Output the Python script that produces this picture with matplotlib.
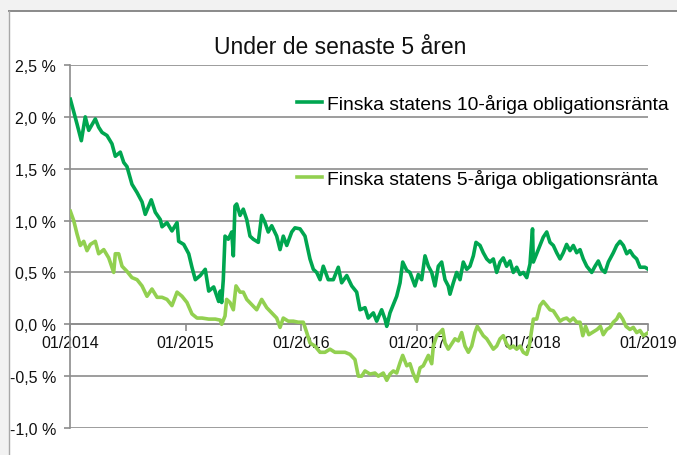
import matplotlib
matplotlib.use("Agg")
import matplotlib.pyplot as plt
from matplotlib.patches import Rectangle

plt.rcParams['font.family'] = ['Liberation Sans', 'DejaVu Sans']

title = "Under de senaste 5 åren"
label_10y = "Finska statens 10-åriga obligationsränta"
label_5y = "Finska statens 5-åriga obligationsränta"
x_ticks = [2014, 2015, 2016, 2017, 2018, 2019]
x_ticklabels = ["01/2014", "01/2015", "01/2016", "01/2017", "01/2018", "01/2019"]
y_ticks = [-1.0, -0.5, 0.0, 0.5, 1.0, 1.5, 2.0, 2.5]
y_ticklabels = ["-1,0 %", "-0,5 %", "0,0 %", "0,5 %", "1,0 %", "1,5 %", "2,0 %", "2,5 %"]

# 10-year yield (decimal year, %)
t10 = [2014.003, 2014.061, 2014.098, 2014.132, 2014.162, 2014.219, 2014.248, 2014.277,
       2014.320, 2014.363, 2014.392, 2014.435, 2014.465, 2014.493, 2014.536, 2014.580,
       2014.623, 2014.651, 2014.703, 2014.738, 2014.781, 2014.796, 2014.839, 2014.882,
       2014.926, 2014.940, 2014.984, 2015.027, 2015.055, 2015.084, 2015.127, 2015.170,
       2015.200, 2015.243, 2015.286, 2015.300, 2015.312, 2015.326, 2015.341, 2015.369,
       2015.399, 2015.413, 2015.427, 2015.442, 2015.471, 2015.499, 2015.529, 2015.557,
       2015.586, 2015.629, 2015.658, 2015.687, 2015.715, 2015.745, 2015.788, 2015.817,
       2015.845, 2015.875, 2015.918, 2015.946, 2015.990, 2016.033, 2016.076, 2016.105,
       2016.134, 2016.163, 2016.191, 2016.234, 2016.278, 2016.321, 2016.350, 2016.394,
       2016.437, 2016.480, 2016.509, 2016.552, 2016.580, 2016.624, 2016.653, 2016.696,
       2016.725, 2016.740, 2016.768, 2016.797, 2016.826, 2016.855, 2016.878, 2016.913,
       2016.941, 2016.984, 2017.013, 2017.042, 2017.071, 2017.100, 2017.129, 2017.157,
       2017.186, 2017.215, 2017.244, 2017.272, 2017.287, 2017.316, 2017.345, 2017.374,
       2017.402, 2017.432, 2017.460, 2017.489, 2017.512, 2017.547, 2017.575, 2017.605,
       2017.633, 2017.662, 2017.691, 2017.720, 2017.748, 2017.777, 2017.806, 2017.835,
       2017.864, 2017.893, 2017.921, 2017.951, 2017.979, 2018.001, 2018.008, 2018.037,
       2018.066, 2018.094, 2018.124, 2018.152, 2018.181, 2018.210, 2018.239, 2018.267,
       2018.296, 2018.325, 2018.354, 2018.383, 2018.412, 2018.440, 2018.470, 2018.513,
       2018.542, 2018.570, 2018.599, 2018.628, 2018.657, 2018.700, 2018.729, 2018.758,
       2018.787, 2018.816, 2018.844, 2018.873, 2018.902, 2018.931, 2018.974, 2019.003]
y10 = [2.17, 1.93, 1.77, 2.00, 1.87, 1.98, 1.90, 1.85,
       1.82, 1.74, 1.62, 1.66, 1.56, 1.52, 1.35, 1.27,
       1.18, 1.06, 1.20, 1.08, 1.01, 0.94, 0.98, 0.90,
       0.98, 0.80, 0.77, 0.68, 0.55, 0.43, 0.47, 0.53,
       0.32, 0.36, 0.22, 0.32, 0.21, 0.43, 0.85, 0.82,
       0.89, 0.66, 1.14, 1.16, 1.05, 1.11, 1.01, 0.85,
       0.82, 0.79, 1.05, 0.98, 0.89, 0.95, 0.85, 0.72,
       0.85, 0.76, 0.89, 0.93, 0.92, 0.85, 0.63, 0.53,
       0.50, 0.43, 0.56, 0.43, 0.43, 0.55, 0.40, 0.47,
       0.37, 0.31, 0.14, 0.16, 0.06, 0.11, 0.03, 0.14,
       0.05, -0.02, 0.11, 0.19, 0.27, 0.40, 0.60, 0.52,
       0.50, 0.37, 0.48, 0.43, 0.66, 0.56, 0.50, 0.37,
       0.56, 0.60, 0.43, 0.37, 0.29, 0.40, 0.50, 0.43,
       0.60, 0.53, 0.56, 0.66, 0.79, 0.76, 0.69, 0.63,
       0.60, 0.63, 0.50, 0.60, 0.64, 0.56, 0.61, 0.50,
       0.55, 0.48, 0.50, 0.45, 0.58, 0.92, 0.60, 0.68,
       0.76, 0.84, 0.89, 0.79, 0.76, 0.69, 0.63, 0.69,
       0.77, 0.71, 0.76, 0.69, 0.72, 0.63, 0.56, 0.50,
       0.56, 0.61, 0.53, 0.50, 0.60, 0.69, 0.76, 0.80,
       0.76, 0.68, 0.71, 0.66, 0.63, 0.55, 0.55, 0.53]

# 5-year yield (decimal year, %)
t5 = [2014.003, 2014.032, 2014.061, 2014.089, 2014.119, 2014.147, 2014.176, 2014.219,
      2014.248, 2014.292, 2014.335, 2014.378, 2014.392, 2014.421, 2014.450, 2014.493,
      2014.536, 2014.580, 2014.623, 2014.666, 2014.709, 2014.753, 2014.796, 2014.839,
      2014.882, 2014.926, 2014.969, 2015.012, 2015.055, 2015.099, 2015.142, 2015.200,
      2015.257, 2015.300, 2015.312, 2015.341, 2015.355, 2015.384, 2015.413, 2015.436,
      2015.471, 2015.499, 2015.529, 2015.572, 2015.615, 2015.658, 2015.702, 2015.745,
      2015.788, 2015.817, 2015.845, 2015.888, 2015.932, 2015.975, 2016.018, 2016.048,
      2016.076, 2016.119, 2016.163, 2016.206, 2016.249, 2016.292, 2016.336, 2016.379,
      2016.422, 2016.465, 2016.494, 2016.523, 2016.552, 2016.595, 2016.638, 2016.667,
      2016.710, 2016.740, 2016.768, 2016.797, 2016.826, 2016.855, 2016.878, 2016.913,
      2016.941, 2016.967, 2016.999, 2017.028, 2017.056, 2017.100, 2017.129, 2017.143,
      2017.172, 2017.201, 2017.224, 2017.244, 2017.272, 2017.301, 2017.330, 2017.359,
      2017.388, 2017.417, 2017.446, 2017.475, 2017.503, 2017.523, 2017.547, 2017.575,
      2017.605, 2017.633, 2017.662, 2017.691, 2017.720, 2017.748, 2017.777, 2017.806,
      2017.835, 2017.864, 2017.893, 2017.921, 2017.951, 2017.973, 2017.994, 2018.008,
      2018.037, 2018.066, 2018.094, 2018.124, 2018.152, 2018.181, 2018.210, 2018.239,
      2018.267, 2018.296, 2018.325, 2018.354, 2018.383, 2018.412, 2018.436, 2018.460,
      2018.488, 2018.517, 2018.560, 2018.588, 2018.613, 2018.643, 2018.671, 2018.700,
      2018.729, 2018.752, 2018.781, 2018.810, 2018.844, 2018.873, 2018.902, 2018.931,
      2018.960, 2019.003]
y5 = [1.09, 1.00, 0.87, 0.76, 0.80, 0.71, 0.77, 0.80,
      0.68, 0.72, 0.64, 0.50, 0.68, 0.68, 0.56, 0.51,
      0.45, 0.43, 0.37, 0.27, 0.34, 0.26, 0.26, 0.24,
      0.18, 0.31, 0.27, 0.21, 0.10, 0.06, 0.06, 0.05,
      0.05, 0.04, 0.00, 0.08, 0.24, 0.21, 0.14, 0.37,
      0.31, 0.31, 0.24, 0.19, 0.14, 0.24, 0.16, 0.11,
      0.06, -0.03, 0.06, 0.03, 0.03, 0.02, 0.02, -0.08,
      -0.18, -0.21, -0.27, -0.27, -0.24, -0.27, -0.27, -0.27,
      -0.29, -0.34, -0.50, -0.50, -0.45, -0.48, -0.47, -0.50,
      -0.47, -0.54, -0.48, -0.45, -0.47, -0.37, -0.30, -0.40,
      -0.38, -0.47, -0.55, -0.42, -0.40, -0.30, -0.38, -0.21,
      -0.11, -0.08, -0.05, -0.18, -0.24, -0.19, -0.14, -0.16,
      -0.08, -0.21, -0.27, -0.21, -0.08, -0.02, -0.06, -0.11,
      -0.14, -0.19, -0.24, -0.21, -0.14, -0.11, -0.19, -0.23,
      -0.21, -0.24, -0.21, -0.27, -0.29, -0.21, -0.05, 0.05,
      0.05, 0.18, 0.22, 0.18, 0.14, 0.13, 0.08, 0.03,
      0.05, 0.06, 0.03, 0.06, 0.02, 0.02, -0.11, -0.02,
      -0.10, -0.08, -0.05, -0.02, -0.10, -0.05, -0.03, 0.02,
      0.05, 0.10, 0.05, -0.02, -0.05, -0.03, -0.08, -0.06,
      -0.11, -0.08]

W, H = 677, 456
fig = plt.figure(figsize=(W / 100, H / 100), dpi=100)
fig.patch.set_facecolor('#f2f2f2')

# background axes for the white chart area and its frame
bg = fig.add_axes([0, 0, 1, 1], zorder=-10)
bg.set_xlim(0, W)
bg.set_ylim(H, 0)
bg.axis('off')
bg.add_patch(Rectangle((9, 12), W, H, facecolor='white', edgecolor='none'))
bg.plot([9, W], [12, 12], color='#8a8a8a', lw=1.4)
bg.plot([9, 9], [12, H], color='#a8a8a8', lw=1.0)

ax = fig.add_axes([70 / W, 27 / H, 578 / W, 363 / H], zorder=1)
ax.set_facecolor('none')

green_dark = '#00a650'
green_light = '#92d050'
grid_col = '#8c8c8c'

ax.plot(t5, y5, color=green_light, lw=2.6, label=label_5y, zorder=3, solid_joinstyle='round')
ax.plot(t10, y10, color=green_dark, lw=2.6, label=label_10y, zorder=4, solid_joinstyle='round')

ax.set_xlim(2014, 2019)
ax.set_ylim(-1.0, 2.5)
ax.set_yticks(y_ticks)
ax.set_yticklabels(y_ticklabels)
ax.set_xticks(x_ticks)
ax.set_xticklabels(x_ticklabels)

for v in y_ticks:
    ax.axhline(v, color=grid_col, lw=1.2, zorder=1)

for s in ['top', 'right']:
    ax.spines[s].set_visible(False)
ax.spines['left'].set_color(grid_col)
ax.spines['left'].set_linewidth(1.2)
ax.spines['bottom'].set_position(('data', 0))
ax.spines['bottom'].set_color(grid_col)
ax.spines['bottom'].set_linewidth(1.2)

ax.tick_params(axis='y', direction='out', length=4, width=1.2, color=grid_col,
               pad=6, labelsize=11.5, labelcolor='#111111')
ax.tick_params(axis='x', direction='out', length=5, width=1.2, color=grid_col,
               pad=3, labelsize=11.5, labelcolor='#111111')

fig.text(340 / W, 1 - 48 / H, title, ha='center', va='center', fontsize=16.5, color='#111111')

handles, labels = ax.get_legend_handles_labels()
leg = fig.legend(handles[::-1], labels[::-1], loc='upper left',
                 bbox_to_anchor=(297 / W, 1 - 95 / H), bbox_transform=fig.transFigure,
                 frameon=False, fontsize=13.9, handlelength=1.3, handletextpad=0.25,
                 labelspacing=2.9, borderpad=0, borderaxespad=0)

fig.savefig('out.png', dpi=100, facecolor=fig.get_facecolor())
